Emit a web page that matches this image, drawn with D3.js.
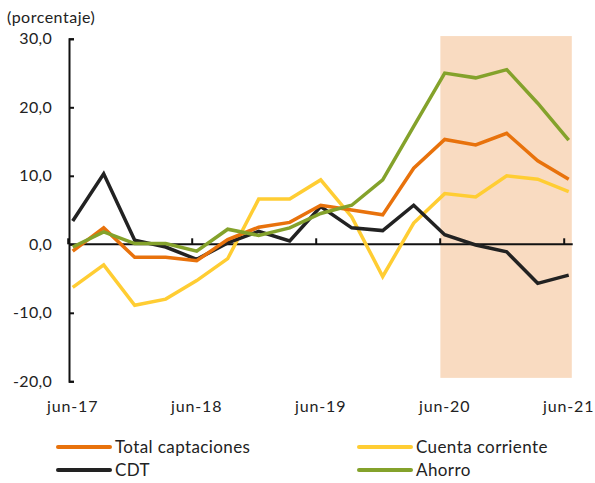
<!DOCTYPE html>
<html>
<head>
<meta charset="utf-8">
<script src="https://cdn.jsdelivr.net/npm/d3@7"></script>
<style>
  body { margin: 0; background: #fff; }
  svg text { font-family: Lato, "Open Sans", sans-serif; fill: #222; }
</style>
</head>
<body>
<svg width="595" height="483"></svg>
<script>
// quarterly, jun-17 .. jun-21
var periods = ["jun-17","sep-17","dic-17","mar-18","jun-18","sep-18","dic-18","mar-19","jun-19",
               "sep-19","dic-19","mar-20","jun-20","sep-20","dic-20","mar-21","jun-21"];
var xTickLabels = ["jun-17","jun-18","jun-19","jun-20","jun-21"];
var yTicks = [-20, -10, 0, 10, 20, 30];

var totalCaptaciones = [-1.0, 2.4, -1.9, -1.9, -2.4, 0.7, 2.5, 3.2, 5.7, 5.0, 4.3, 11.1, 15.3, 14.5, 16.2, 12.2, 9.5];
var cuentaCorriente  = [-6.3, -3.0, -8.9, -8.0, -5.3, -2.1, 6.6, 6.6, 9.4, 4.0, -4.7, 3.1, 7.4, 6.9, 10.0, 9.5, 7.7];
var cdt              = [3.4, 10.3, 0.6, -0.4, -2.2, 0.2, 1.9, 0.5, 5.5, 2.4, 2.0, 5.7, 1.4, -0.1, -1.1, -5.7, -4.5];
var ahorro           = [-0.4, 1.8, 0.1, 0.1, -1.0, 2.2, 1.3, 2.4, 4.5, 5.7, 9.4, 17.2, 25.0, 24.3, 25.5, 20.6, 15.2];

var series = [
  { name: "Cuenta corriente", values: cuentaCorriente, color: "#FFCD33" },
  { name: "CDT", values: cdt, color: "#222222" },
  { name: "Total captaciones", values: totalCaptaciones, color: "#E8720C" },
  { name: "Ahorro", values: ahorro, color: "#84A22B" }
];
var legendOrder = ["Total captaciones", "Cuenta corriente", "CDT", "Ahorro"];

var svg = d3.select("svg");

var x = d3.scaleLinear().domain([0, periods.length - 1]).range([72.7, 568.7]);
var y = d3.scaleLinear().domain([-20, 30]).range([381.3, 38.8]);

var locale = d3.formatLocale({ decimal: ",", thousands: ".", grouping: [3], currency: ["", ""], minus: "-" });
var fmt = locale.format(".1f");

// shaded period (jun-20 onwards)
svg.append("rect")
  .attr("x", x(11.86))
  .attr("y", y(30.4))
  .attr("width", x(16.1) - x(11.86))
  .attr("height", y(-19.5) - y(30.4))
  .attr("fill", "#F9DBC1");

// y axis
var yAxis = svg.append("g")
  .attr("transform", "translate(69,0)")
  .call(d3.axisLeft(y).tickValues(yTicks).tickFormat(fmt)
    .tickSize(-5).tickSizeOuter(-5).tickPadding(17));
yAxis.select(".domain").attr("stroke", "#111").attr("stroke-width", 2);
yAxis.selectAll(".tick line").attr("stroke", "#111").attr("stroke-width", 2);
yAxis.selectAll("text").attr("font-size", 16).attr("fill", "#222")
  .attr("font-family", "Lato, 'Open Sans', sans-serif")
  .attr("letter-spacing", 0.3);

// zero line with year ticks
svg.append("line")
  .attr("x1", 69).attr("x2", x(16.13))
  .attr("y1", y(0)).attr("y2", y(0))
  .attr("stroke", "#111").attr("stroke-width", 2);

svg.selectAll(".xtick")
  .data(xTickLabels)
  .enter().append("line")
  .attr("class", "xtick")
  .attr("x1", function (d, i) { return x(i * 4 - 0.145); })
  .attr("x2", function (d, i) { return x(i * 4 - 0.145); })
  .attr("y1", y(0)).attr("y2", y(0) - 6)
  .attr("stroke", "#111").attr("stroke-width", 2);

svg.selectAll(".xlabel")
  .data(xTickLabels)
  .enter().append("text")
  .attr("class", "xlabel")
  .attr("x", function (d, i) { return x(i * 4); })
  .attr("y", 412)
  .attr("text-anchor", "middle")
  .attr("font-size", 16)
  .attr("letter-spacing", 0.9)
  .text(function (d) { return d; });

// unit label
svg.append("text")
  .attr("x", 7).attr("y", 23)
  .attr("font-size", 16)
  .attr("letter-spacing", 0.5)
  .text("(porcentaje)");

// lines
var line = d3.line()
  .x(function (d, i) { return x(i); })
  .y(function (d) { return y(d); });

svg.selectAll(".series")
  .data(series)
  .enter().append("path")
  .attr("class", "series")
  .attr("d", function (d) { return line(d.values); })
  .attr("fill", "none")
  .attr("stroke", function (d) { return d.color; })
  .attr("stroke-width", 3.5)
  .attr("stroke-linejoin", "miter");

// legend
var legend = svg.selectAll(".legend")
  .data(legendOrder)
  .enter().append("g")
  .attr("class", "legend")
  .attr("transform", function (d, i) {
    return "translate(" + (i % 2 === 0 ? 58 : 359) + "," + (447 + Math.floor(i / 2) * 23) + ")";
  });

legend.append("line")
  .attr("x1", 0).attr("x2", 52)
  .attr("stroke", function (d) { return series.find(function (s) { return s.name === d; }).color; })
  .attr("stroke-width", 4)
  .attr("stroke-linecap", "round");

legend.append("text")
  .attr("x", 57).attr("y", 6)
  .attr("font-size", 17)
  .attr("letter-spacing", 0.4)
  .text(function (d) { return d; });
</script>
</body>
</html>
